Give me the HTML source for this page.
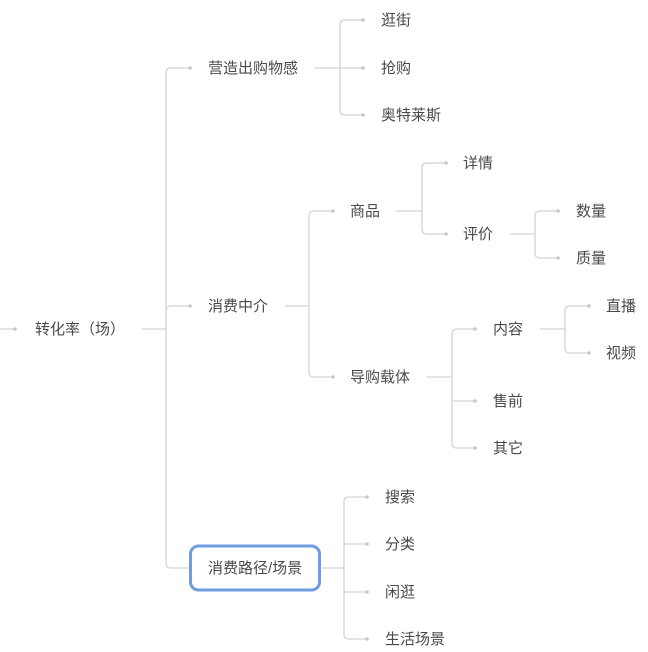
<!DOCTYPE html>
<html><head><meta charset="utf-8"><style>
html,body{margin:0;padding:0;background:#fff;width:648px;height:652px;overflow:hidden}
svg text{font-family:"Liberation Sans","Noto Sans CJK SC",sans-serif;font-size:15px;fill:#4a4a4a}
</style></head><body>
<svg width="648" height="652" viewBox="0 0 648 652" xmlns="http://www.w3.org/2000/svg">
<g fill="none" stroke="#d4d4d4" stroke-width="1.3">
<path d="M0 329 H15"/>
<path d="M142 329 H166"/>
<path d="M166 73 V563"/>
<path d="M166 73 Q166 68 171 68 H190"/>
<path d="M166 311 Q166 306 171 306 H190"/>
<path d="M166 563 Q166 568 171 568 H190"/>
<path d="M314 68 H363"/>
<path d="M340 25 V110"/>
<path d="M340 25 Q340 20 345 20 H363"/>
<path d="M340 110 Q340 115 345 115 H363"/>
<path d="M285 306 H309"/>
<path d="M309 216 V372"/>
<path d="M309 216 Q309 211 314 211 H333"/>
<path d="M309 372 Q309 377 314 377 H333"/>
<path d="M396 211 H422"/>
<path d="M422 168 V229"/>
<path d="M422 168 Q422 163 427 163 H446"/>
<path d="M422 229 Q422 234 427 234 H446"/>
<path d="M510 234 H535"/>
<path d="M535 216 V253"/>
<path d="M535 216 Q535 211 540 211 H558"/>
<path d="M535 253 Q535 258 540 258 H558"/>
<path d="M427 377 H452"/>
<path d="M452 334 V443"/>
<path d="M452 334 Q452 329 457 329 H475"/>
<path d="M452 401 H475"/>
<path d="M452 443 Q452 448 457 448 H475"/>
<path d="M540 329 H565"/>
<path d="M565 311 V348"/>
<path d="M565 311 Q565 306 570 306 H589"/>
<path d="M565 348 Q565 353 570 353 H589"/>
<path d="M322 568 H344"/>
<path d="M344 502 V634"/>
<path d="M344 502 Q344 497 349 497 H367"/>
<path d="M344 544 H367"/>
<path d="M344 592 H367"/>
<path d="M344 634 Q344 639 349 639 H367"/>
</g>
<g fill="#c8c8c8">
<circle cx="15" cy="329" r="1.8"/>
<circle cx="190" cy="68" r="1.8"/><circle cx="190" cy="306" r="1.8"/>
<circle cx="363" cy="20" r="1.8"/><circle cx="363" cy="68" r="1.8"/><circle cx="363" cy="115" r="1.8"/>
<circle cx="333" cy="211" r="1.8"/><circle cx="333" cy="377" r="1.8"/>
<circle cx="446" cy="163" r="1.8"/><circle cx="446" cy="234" r="1.8"/>
<circle cx="558" cy="211" r="1.8"/><circle cx="558" cy="258" r="1.8"/>
<circle cx="475" cy="329" r="1.8"/><circle cx="475" cy="401" r="1.8"/><circle cx="475" cy="448" r="1.8"/>
<circle cx="589" cy="306" r="1.8"/><circle cx="589" cy="353" r="1.8"/>
<circle cx="367" cy="497" r="1.8"/><circle cx="367" cy="544" r="1.8"/><circle cx="367" cy="592" r="1.8"/><circle cx="367" cy="639" r="1.8"/>
</g>
<rect x="190.5" y="546" width="129" height="44" rx="8" fill="#fff" stroke="#6d9de0" stroke-width="3"/>
<text x="35" y="334">转化率（场）</text>
<text x="208" y="73">营造出购物感</text>
<text x="208" y="311">消费中介</text>
<text x="208" y="573">消费路径/场景</text>
<text x="381" y="25">逛街</text>
<text x="381" y="73">抢购</text>
<text x="381" y="120">奥特莱斯</text>
<text x="350" y="216">商品</text>
<text x="350" y="382">导购载体</text>
<text x="463" y="168">详情</text>
<text x="463" y="239">评价</text>
<text x="576" y="216">数量</text>
<text x="576" y="263">质量</text>
<text x="493" y="334">内容</text>
<text x="493" y="406">售前</text>
<text x="493" y="453">其它</text>
<text x="606" y="311">直播</text>
<text x="606" y="358">视频</text>
<text x="385" y="502">搜索</text>
<text x="385" y="549">分类</text>
<text x="385" y="597">闲逛</text>
<text x="385" y="644">生活场景</text>
</svg>
</body></html>
